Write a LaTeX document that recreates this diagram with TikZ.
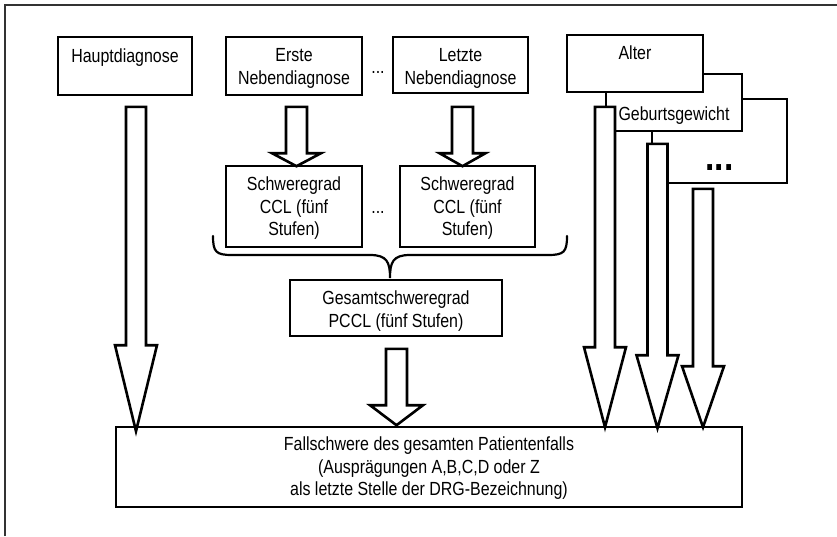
\documentclass[tikz,border=0pt]{standalone}
\usepackage{fontspec}
\setmainfont[FakeStretch=0.84]{Liberation Sans}
\usetikzlibrary{calc}
\newcommand{\blockarrow}[5]{%
  \path[blk] let \p1=(#1), \p2=(#2) in
    (\x2-#3,\y1) -- (\x2+#3,\y1) -- (\x2+#3,\y2+#5) -- (\x2+#4,\y2+#5) -- (\x2,\y2)
    -- (\x2-#4,\y2+#5) -- (\x2-#3,\y2+#5) -- cycle;}
\begin{document}
\begin{tikzpicture}[x=1pt,y=-1pt,
  box/.style={draw, line width=1.6pt, fill=white, inner sep=0pt},
  blk/.style={draw, line width=2.6pt, fill=white, line join=miter},
  lbl/.style={inner sep=0pt, align=center, font=\fontsize{19}{22.5}\selectfont},
  brace/.style={draw, line width=2.2pt, line cap=round}]
\useasboundingbox (0,0) rectangle (837,536);
\draw[line width=1.3pt, black!80] (5,536) -- (5,5) -- (837,5);

% top boxes
\node[box, minimum width=134pt, minimum height=58pt] (haupt) at (125,66) {};
\node[lbl, anchor=north] (hauptT) at ($(haupt.north)+(0,12.5)$) {Hauptdiagnose};
\node[box, minimum width=136pt, minimum height=58pt] (erste) at (294,66) {};
\node[lbl, anchor=north] (ersteT) at ($(erste.north)+(0,12.5)$) {Erste\\Nebendiagnose};
\node[lbl, anchor=base] (dots1) at (378,73) {...};
\node[box, minimum width=135pt, minimum height=56pt] (letzte) at (460.5,65) {};
\node[lbl, anchor=north] (letzteT) at ($(letzte.north)+(0,12.5)$) {Letzte\\Nebendiagnose};

% stacked boxes on the right
\node[box, minimum width=135pt, minimum height=84pt] (more) at (719.5,141) {};
\node[lbl, anchor=base, font=\fontsize{40}{40}\selectfont\bfseries] (dots3) at (719.5,170) {...};
\node[box, minimum width=136pt, minimum height=57pt] (gg) at (674,102.5) {};
\node[lbl, anchor=north] (ggT) at ($(gg.north)+(0,33.5)$) {Geburtsgewicht};
\node[box, minimum width=136pt, minimum height=57pt] (alter) at (635,63.5) {};
\node[lbl, anchor=north] (alterT) at ($(alter.north)+(0,11.5)$) {Alter};

% CCL boxes
\node[box, minimum width=136pt, minimum height=81pt] (schw1) at (294,206.5) {};
\node[lbl, anchor=north] (schw1T) at ($(schw1.north)+(0,11.5)$) {Schweregrad\\CCL (fünf\\Stufen)};
\node[lbl, anchor=base] (dots2) at (378,213) {...};
\node[box, minimum width=135pt, minimum height=81pt] (schw2) at (467.5,206.5) {};
\node[lbl, anchor=north] (schw2T) at ($(schw2.north)+(0,11.5)$) {Schweregrad\\CCL (fünf\\Stufen)};

% brace
\draw[brace] (213,236) .. controls (213,252) and (216,255) .. (232,255) -- (370,255)
  .. controls (387,255) and (390,262) .. (390,278)
  .. controls (390,262) and (393,255) .. (410,255) -- (548,255)
  .. controls (564,255) and (567,252) .. (567,236);

% PCCL box
\node[box, minimum width=212pt, minimum height=56pt] (gesamt) at (396,308) {};
\node[lbl, anchor=north] (gesamtT) at ($(gesamt.north)+(0,11.5)$) {Gesamtschweregrad\\PCCL (fünf Stufen)};

% bottom box
\node[box, minimum width=626pt, minimum height=80pt] (fall) at (429,467) {};
\node[lbl, anchor=north] (fallT) at ($(fall.north)+(0,10.5)$) {Fallschwere des gesamten Patientenfalls\\(Ausprägungen A,B,C,D oder Z\\als letzte Stelle der DRG-Bezeichnung)};

% arrow coordinates
\coordinate (ha-s) at ($(haupt.south)+(11,11)$);
\coordinate (ha-e) at ($(ha-s |- fall.north)+(0,5)$);
\coordinate (er-s) at ($(erste.south)+(2.5,11)$);
\coordinate (er-e) at ($(er-s |- schw1.north)+(0,1)$);
\coordinate (le-s) at ($(letzte.south)+(2,13)$);
\coordinate (le-e) at ($(le-s |- schw2.north)+(0,1)$);
\coordinate (pc-s) at ($(gesamt.south)+(0.5,12)$);
\coordinate (pc-e) at ($(pc-s |- fall.north)+(0,-1)$);
\coordinate (a1-s) at ($(alter.south)+(-30,14)$);
\coordinate (a1-e) at ($(a1-s |- fall.north)+(0,1)$);
\coordinate (a2-s) at ($(gg.south)+(-16.5,12)$);
\coordinate (a2-e) at ($(a2-s |- fall.north)+(0,2)$);
\coordinate (a3-s) at ($(more.south)+(-16.5,5)$);
\coordinate (a3-e) at ($(a3-s |- fall.north)+(0,1)$);

% block arrows
\blockarrow{ha-s}{ha-e}{10pt}{21pt}{86pt}
\blockarrow{er-s}{er-e}{10.5pt}{24.5pt}{13pt}
\blockarrow{le-s}{le-e}{10.5pt}{23pt}{13pt}
\blockarrow{pc-s}{pc-e}{10.5pt}{26.5pt}{20pt}
\blockarrow{a1-s}{a1-e}{10pt}{21pt}{80pt}
\blockarrow{a2-s}{a2-e}{10pt}{21pt}{73pt}
\blockarrow{a3-s}{a3-e}{10pt}{21pt}{61pt}
\end{tikzpicture}
\end{document}
